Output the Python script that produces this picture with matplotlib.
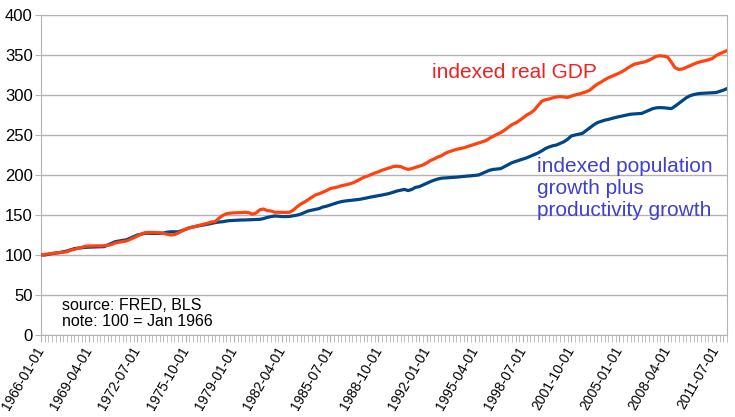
import matplotlib
matplotlib.use("Agg")
import matplotlib.pyplot as plt
import numpy as np

plt.rcParams['font.family'] = ['Liberation Sans', 'DejaVu Sans']

start_year = 1966
gdp = [
    100, 100.8, 101.3, 102,
    102.5, 103, 103.5, 104,
    106, 107, 108.5, 109.5,
    111, 111.2, 111.4, 111.5,
    111.4, 111.6, 112.2, 113,
    115, 116, 116.8, 117.5,
    119.5, 121.5, 123.8, 126,
    127.8, 128.3, 128.2, 128,
    127.8, 127, 126, 125,
    125.5, 127.5, 130, 132.5,
    133.8, 135, 136.2, 137.3,
    138.5, 139.8, 141.3, 141.8,
    146, 149.5, 151.5, 152.3,
    152.7, 152.8, 153, 153.4,
    153, 151, 152.5, 156.5,
    157.5, 155.6, 155, 153.5,
    153.4, 153.4, 153.2, 153.4,
    156, 160, 163.5, 166,
    169, 172, 175, 176.5,
    178.5, 180.5, 183, 184,
    185, 186.5, 187.5, 188.5,
    190, 192, 194.5, 197,
    198.5, 200.5, 202.5, 204,
    206, 207.5, 209, 210.5,
    211, 210.5, 208.5, 207,
    208, 209.5, 211, 212.5,
    215, 218, 220, 222.5,
    224, 227, 229, 230.5,
    232, 233, 234, 235.5,
    237, 238.5, 240, 241.5,
    243, 246, 248.5, 251,
    253, 256, 259.5, 263,
    265, 268, 271.5, 275,
    277.5, 281, 286.5, 292,
    294, 295, 296.5, 297.5,
    298, 297.5, 297, 298.5,
    300, 301, 302.5, 304,
    306, 310, 313.5, 316,
    319, 321.5, 323.5, 325.5,
    327.5, 330, 333, 336,
    338.5, 339.6, 340.5, 341.7,
    343.5, 346, 348.5, 349,
    348.5, 347.5, 341, 334,
    332, 332.5, 334.5, 336.5,
    338.5, 340.5, 341.7, 343,
    344, 345.5, 349, 351.5,
    353.5, 355.5,
]
pop_prod = [
    100, 100, 100.8, 101.5,
    102.5, 103, 104, 105,
    106.5, 108, 108.5, 109,
    109.6, 109.8, 110, 110.2,
    110.3, 110.4, 112.5, 114.5,
    116.6, 117.5, 118.3, 119,
    121, 123, 125, 126,
    127, 127.2, 127, 127,
    127, 127.5, 128.5, 129,
    129, 129, 130.5, 132,
    134, 135, 136, 136.8,
    137.5, 138.5, 139.5, 140.5,
    141.2, 141.6, 142.5, 143,
    143.2, 143.5, 143.75, 143.8,
    144, 144.2, 144.3, 144.6,
    145.5, 147, 148, 148.75,
    148.5, 148, 148, 148.2,
    149, 149.8, 151, 153,
    155, 156, 157, 158,
    160, 161, 162.5, 164,
    165.5, 166.7, 167.5, 168,
    168.5, 169, 169.6, 170.5,
    171.5, 172.5, 173.3, 174,
    175, 176, 177, 178.5,
    180, 181, 182, 180.5,
    182, 184.6, 185.4, 187.5,
    189.5, 191.7, 193.5, 195,
    196, 196.3, 196.6, 197,
    197.3, 197.8, 198.3, 198.7,
    199, 199.5, 200, 202,
    204, 206, 207, 207.5,
    208, 210.5, 213, 215.4,
    217, 218.5, 220, 221.5,
    223.5, 225.5, 227.5, 230,
    233, 235, 236.5, 237.5,
    239.5, 241.5, 244.6, 248.75,
    250, 251, 252, 255.5,
    259, 262.5, 265.4, 267,
    268.5, 269.5, 270.8, 272,
    273, 274, 275, 276,
    276.3, 276.6, 277, 279,
    281, 283, 284, 284.2,
    284, 283.5, 283, 286,
    289.5, 293, 296.5, 299,
    300.5, 301.5, 302, 302.3,
    302.5, 302.8, 303, 304.5,
    306, 308,
]
n = len(gdp)
dates = ["%d-%02d-01" % (start_year + i // 4, 1 + 3 * (i % 4)) for i in range(n)]
label_step = 13
y_ticks = [0, 50, 100, 150, 200, 250, 300, 350, 400]

W, H = 735, 417
fig = plt.figure(figsize=(W / 100, H / 100), dpi=100)
ax = fig.add_axes([41 / W, (H - 335) / H, (727 - 41) / W, (335 - 15) / H])

x = np.arange(n)
ax.plot(x, pop_prod, color='#004586', lw=2.3, solid_joinstyle='round', zorder=3)
ax.plot(x, gdp, color='#ff420e', lw=2.3, solid_joinstyle='round', zorder=4)

ax.set_xlim(0, n - 1)
ax.set_ylim(0, 400)
ax.set_yticks(y_ticks)
ax.set_yticklabels([str(v) for v in y_ticks], fontsize=12)
ax.yaxis.grid(True, color='#b3b3b3', lw=1)
ax.set_axisbelow(True)
ax.tick_params(axis='y', length=4, color='#b3b3b3', pad=2)

major = list(range(0, n, label_step))
ax.set_xticks(major)
ax.set_xticklabels([dates[i] for i in major], rotation=60, ha='right',
                   va='center', rotation_mode='anchor', fontsize=10)
ax.set_xticks(range(n), minor=True)
ax.tick_params(axis='x', which='both', length=5, color='#b3b3b3', pad=4)

for s in ax.spines.values():
    s.set_color('#b3b3b3')

def px(xp, yp):
    return xp / W, 1 - yp / H

fig.text(*px(432, 72), 'indexed real GDP', fontsize=15, color='#ee2222',
         va='center', ha='left')
fig.text(*px(537, 188), 'indexed population\ngrowth plus\nproductivity growth', fontsize=15,
         color='#4040cc', va='center', ha='left', linespacing=1.2)
fig.text(*px(62, 313.5), 'source: FRED, BLS\nnote: 100 = Jan 1966', fontsize=11.5,
         color='black', va='center', ha='left', linespacing=1.0)

fig.savefig('out.png', dpi=100)
